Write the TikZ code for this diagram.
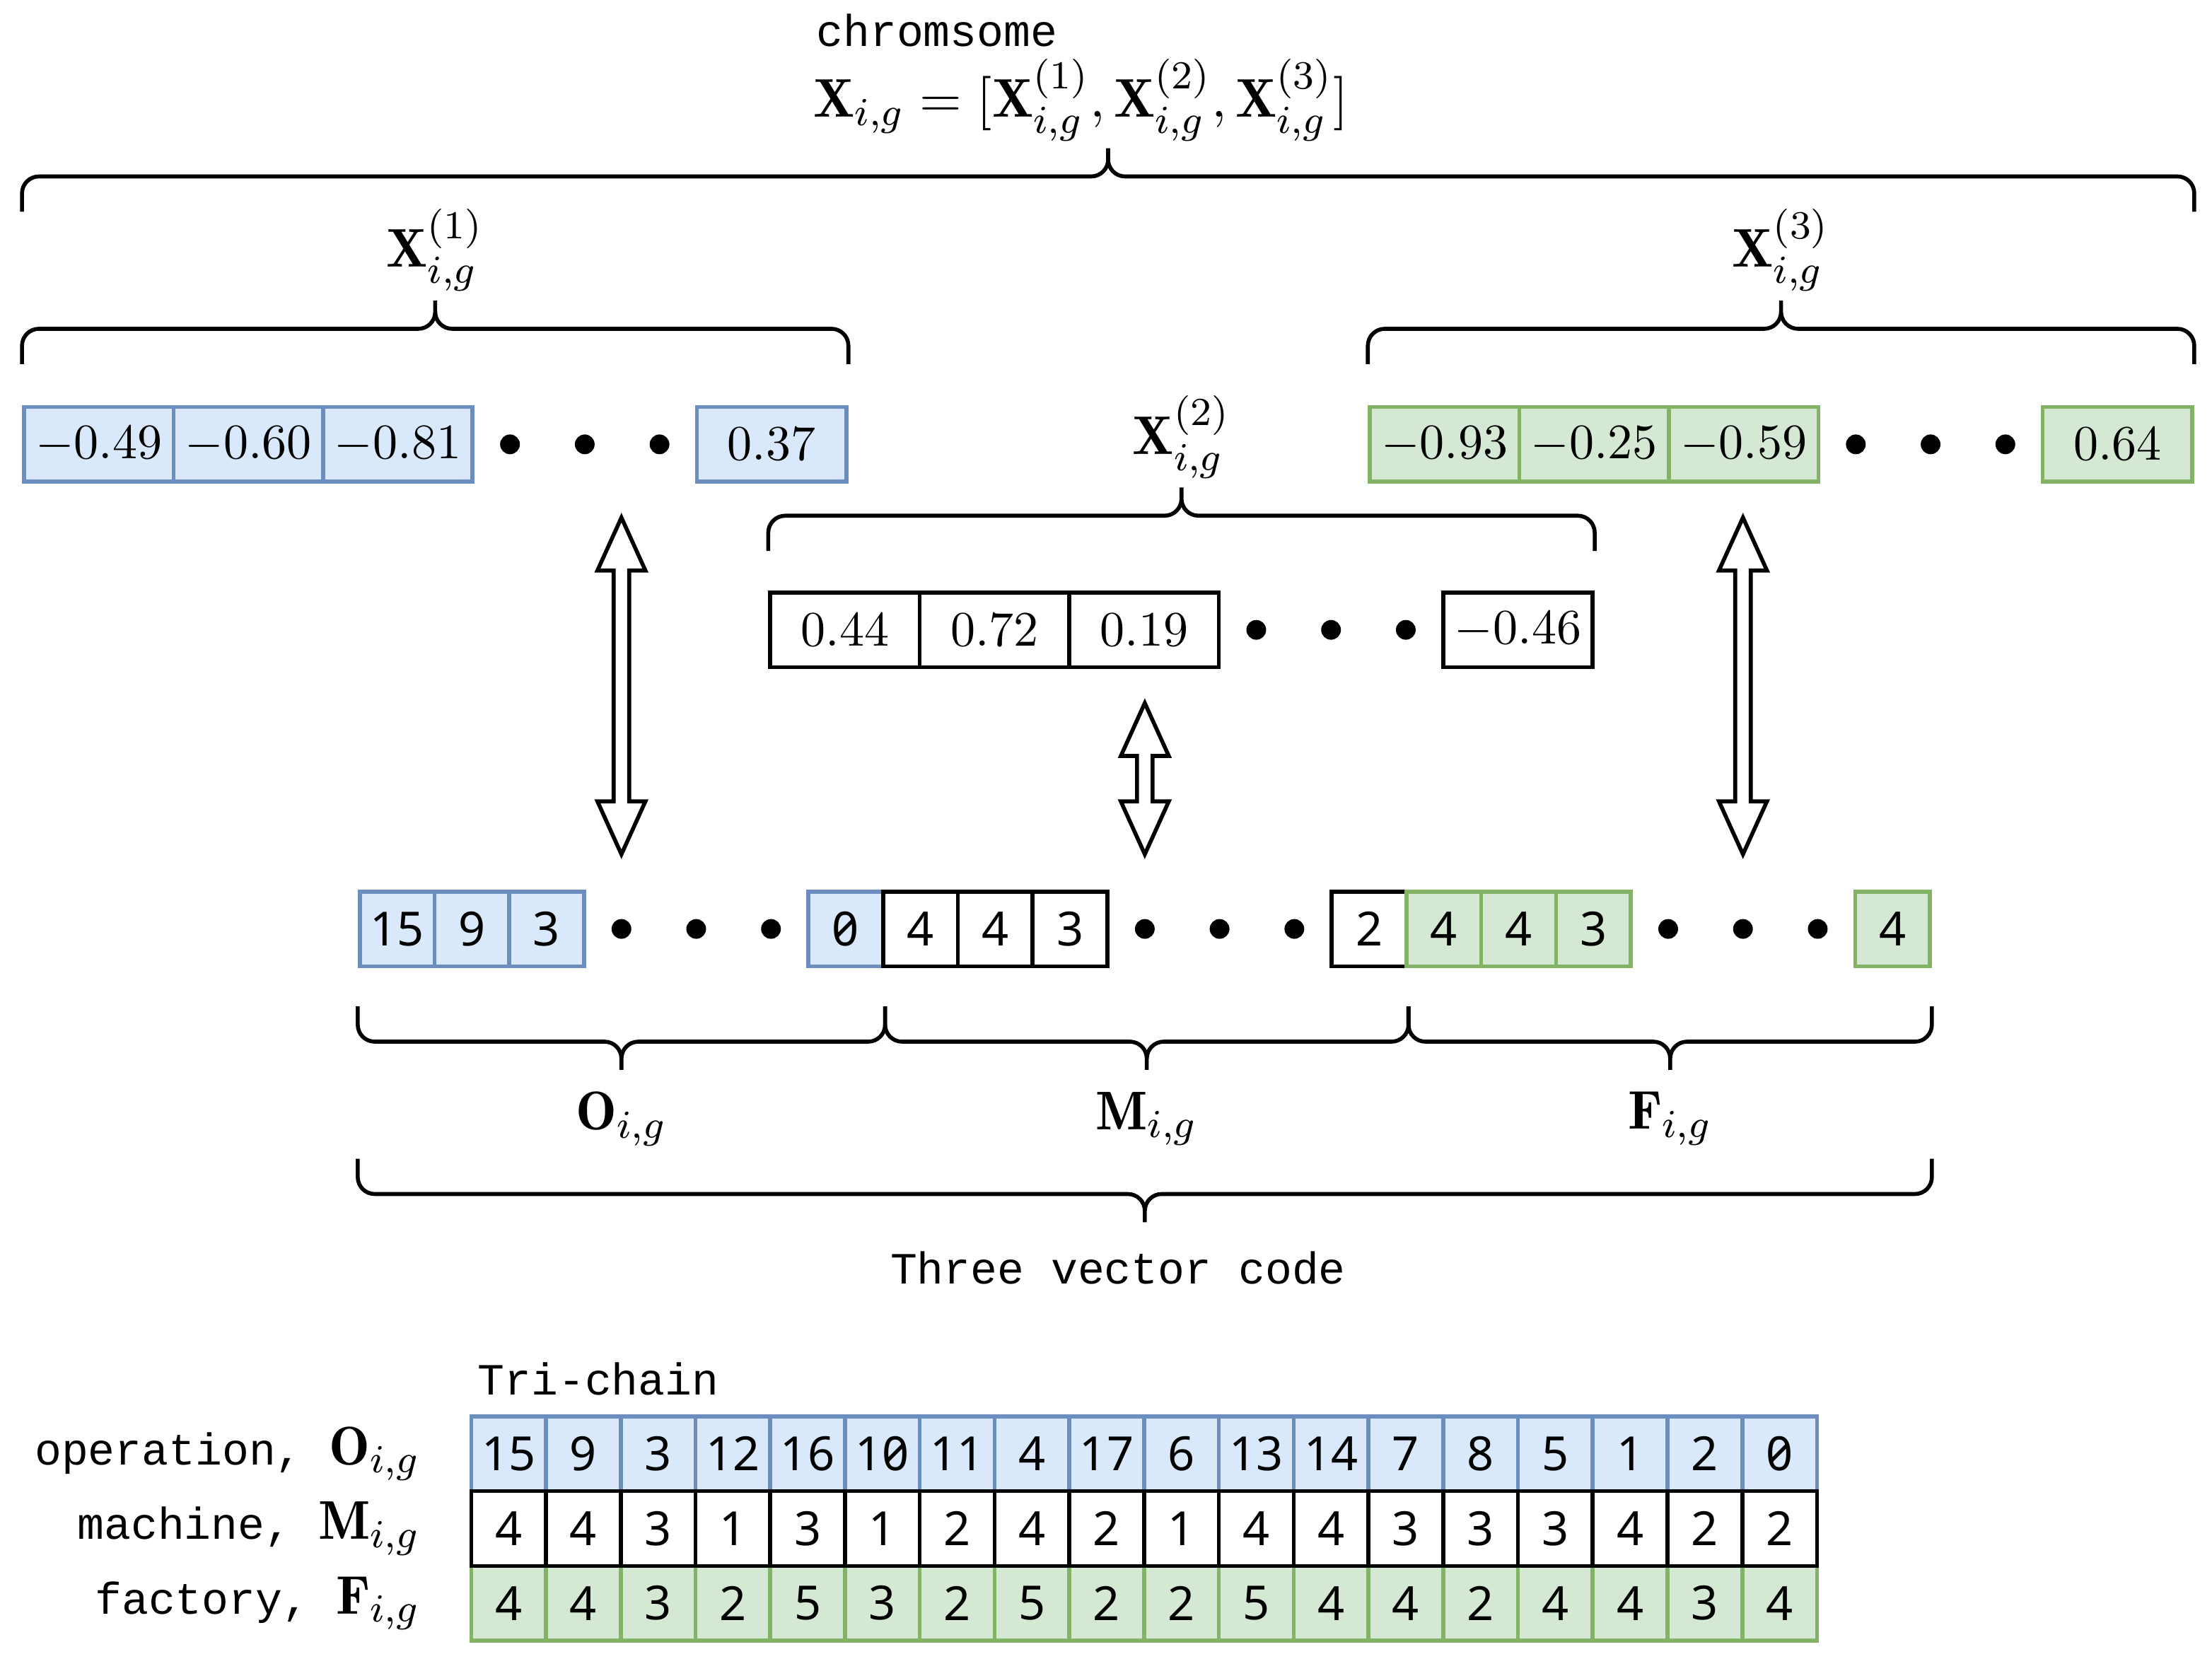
\documentclass[tikz,border=0pt]{standalone}
\usepackage{amsmath}
\usepackage{fontspec}
\usepackage{xcolor}
\usepackage{tikz}
\usetikzlibrary{calc,positioning}
\newfontfamily\codefont{Liberation Mono}
\newfontfamily\digitfont[RawFeature=+zero]{Noto Sans}
\definecolor{ChainBlue}{HTML}{DAE8FC}
\definecolor{ChainBlueLine}{HTML}{6C8EBF}
\definecolor{ChainGreen}{HTML}{D5E8D4}
\definecolor{ChainGreenLine}{HTML}{82B366}
\tikzset{
  opfill/.style={fill=ChainBlue,draw=ChainBlueLine},
  mcfill/.style={fill=white,draw=black},
  fcfill/.style={fill=ChainGreen,draw=ChainGreenLine},
  fcell/.style={draw,line width=0.8pt,minimum width=1.06cm,minimum height=0.53cm,inner sep=0pt},
  icell/.style={draw,line width=0.8pt,minimum size=0.53cm,inner sep=0pt,font=\digitfont\fontsize{9.5}{11}\selectfont},
  opcell/.style={icell,opfill},
  mccell/.style={icell,mcfill},
  fccell/.style={icell,fcfill},
  dotnode/.style={circle,fill=black,inner sep=0pt,minimum size=0.14cm},
  bracket/.style={line width=0.8pt,rounded corners=0.12cm,to path={
    (\tikztostart) -- ++(0,#1*0.25) -| ($(\tikztostart)!0.5!(\tikztotarget)+(0,#1*0.45)$)
    (\tikztotarget) -- ++(0,#1*0.25) -| ($(\tikztostart)!0.5!(\tikztotarget)+(0,#1*0.45)$)}},
  dblarrow/.style={draw,fill=white,line width=0.8pt},
  lbl/.style={inner sep=0pt,font=\fontsize{11}{13}\selectfont},
  codetext/.style={inner sep=0pt,font=\codefont\fontsize{9}{11}\selectfont},
}

\begin{document}
\begin{tikzpicture}[x=1cm,y=1cm]
  \useasboundingbox (0,0) rectangle (15.68,11.76);
  % real-valued parts of the chromosome
  \foreach \v [count=\k] in {-0.49,-0.60,-0.81}
    \node[fcell,opfill] (b\k) at ({-0.36+1.06*\k},8.61) {$\v$};
  \foreach \k in {1,2,3}
    \node[dotnode] (bd\k) at ({3.085+0.53*\k},8.61) {};
  \node[fcell,opfill] (b4) at (5.47,8.61) {$0.37$};

  \foreach \v [count=\k] in {0.44,0.72,0.19}
    \node[fcell,mcfill] (w\k) at ({4.93+1.06*\k},7.295) {$\v$};
  \foreach \k in {1,2,3}
    \node[dotnode] (wd\k) at ({8.375+0.53*\k},7.295) {};
  \node[fcell,mcfill] (w4) at (10.76,7.295) {$-0.46$};

  \foreach \v [count=\k] in {-0.93,-0.25,-0.59}
    \node[fcell,fcfill] (g\k) at ({9.18+1.06*\k},8.61) {$\v$};
  \foreach \k in {1,2,3}
    \node[dotnode] (gd\k) at ({12.625+0.53*\k},8.61) {};
  \node[fcell,fcfill] (g4) at (15.01,8.61) {$0.64$};

  \node[codetext,anchor=base west] (chrom) at (5.78,11.43) {chromsome};
  \node[lbl,anchor=base west] (xform) at (5.76,10.93)
    {$\mathbf{X}_{i,g}=[\mathbf{X}^{(1)}_{i,g},\mathbf{X}^{(2)}_{i,g},\mathbf{X}^{(3)}_{i,g}]$};

  \coordinate (all-l) at ($(b1.north west)+(0,1.37)$);
  \coordinate (all-r) at ($(g4.north east)+(0,1.37)$);
  \coordinate (x1-l) at ($(b1.north west)+(0,0.29)$);
  \coordinate (x1-r) at ($(b4.north east)+(0,0.29)$);
  \coordinate (x2-l) at ($(w1.north west)+(0,0.28)$);
  \coordinate (x2-r) at ($(w4.north east)+(0,0.28)$);
  \coordinate (x3-l) at ($(g1.north west)+(0,0.29)$);
  \coordinate (x3-r) at ($(g4.north east)+(0,0.29)$);
  \draw[bracket=1] (all-l) to (all-r);
  \draw[bracket=1] (x1-l) to (x1-r);
  \draw[bracket=1] (x2-l) to (x2-r);
  \draw[bracket=1] (x3-l) to (x3-r);
  \node[lbl,above=0.51cm] (x1lbl) at ($(x1-l)!0.5!(x1-r)$) {$\mathbf{X}^{(1)}_{i,g}$};
  \node[lbl,above=0.51cm] (x2lbl) at ($(x2-l)!0.5!(x2-r)$) {$\mathbf{X}^{(2)}_{i,g}$};
  \node[lbl,above=0.51cm] (x3lbl) at ($(x3-l)!0.5!(x3-r)$) {$\mathbf{X}^{(3)}_{i,g}$};

  % three vector code
  \foreach \t/\s [count=\k from 0] in {15/opcell,9/opcell,3/opcell,/dotnode,/dotnode,/dotnode,0/opcell,4/mccell,4/mccell,3/mccell,/dotnode,/dotnode,/dotnode,2/mccell,4/fccell,4/fccell,3/fccell,/dotnode,/dotnode,/dotnode,4/fccell}
    \node[\s] (c\k) at ({2.815+0.53*\k},5.175) {\t};

  \foreach \s/\r in {3/b1,10/w1,18/g1}{
    \coordinate (top\s) at ($(c\s |- \r.south)+(0,-0.24)$);
    \coordinate (bot\s) at ($(c\s |- c0.north)+(0,0.25)$);
    \draw[dblarrow] (top\s) -- ++(0.17,-0.375) -- ++(-0.115,0)
      -- ($(bot\s)+(0.055,0.375)$) -- ++(0.115,0) -- (bot\s)
      -- ++(-0.17,0.375) -- ++(0.115,0)
      -- ($(top\s)+(-0.055,-0.375)$) -- ++(-0.115,0) -- cycle;
  }

  \coordinate (o-l) at ($(c0.south west)+(0,-0.27)$);
  \coordinate (o-r) at ($(c6.south east)+(0,-0.27)$);
  \coordinate (m-r) at ($(c13.south east)+(0,-0.27)$);
  \coordinate (f-r) at ($(c20.south east)+(0,-0.27)$);
  \coordinate (tvc-l) at ($(c0.south west)+(0,-1.35)$);
  \coordinate (tvc-r) at ($(c20.south east)+(0,-1.35)$);
  \draw[bracket=-1] (o-l) to (o-r);
  \draw[bracket=-1] (o-r) to (m-r);
  \draw[bracket=-1] (m-r) to (f-r);
  \draw[bracket=-1] (tvc-l) to (tvc-r);
  \node[lbl,below=0.6cm] (olbl) at ($(o-l)!0.5!(o-r)$) {$\mathbf{O}_{i,g}$};
  \node[lbl,below=0.6cm] (mlbl) at ($(o-r)!0.5!(m-r)$) {$\mathbf{M}_{i,g}$};
  \node[lbl,below=0.6cm] (flbl) at ($(m-r)!0.5!(f-r)$) {$\mathbf{F}_{i,g}$};
  \node[codetext,anchor=base] (tvc) at (7.925,2.66) {Three vector code};

  % tri-chain table
  \node[codetext,anchor=base west] (trichain) at (3.38,1.87) {Tri-chain};
  \foreach \v [count=\k] in {15,9,3,12,16,10,11,4,17,6,13,14,7,8,5,1,2,0}
    \node[opcell] (o\k) at ({3.075+0.53*\k},1.455) {\v};
  \foreach \v [count=\k] in {4,4,3,2,5,3,2,5,2,2,5,4,4,2,4,4,3,4}
    \node[fccell] (f\k) at ({3.075+0.53*\k},0.395) {\v};
  \foreach \v [count=\k] in {4,4,3,1,3,1,2,4,2,1,4,4,3,3,3,4,2,2}
    \node[mccell] (m\k) at ({3.075+0.53*\k},0.925) {\v};
  \node[codetext,left=0.34cm of o1] (oname) {operation, {\fontsize{11}{13}\selectfont$\mathbf{O}_{i,g}$}};
  \node[codetext,left=0.34cm of m1] (mname) {machine, {\fontsize{11}{13}\selectfont$\mathbf{M}_{i,g}$}};
  \node[codetext,left=0.34cm of f1] (fname) {factory, {\fontsize{11}{13}\selectfont$\mathbf{F}_{i,g}$}};
\end{tikzpicture}
\end{document}
